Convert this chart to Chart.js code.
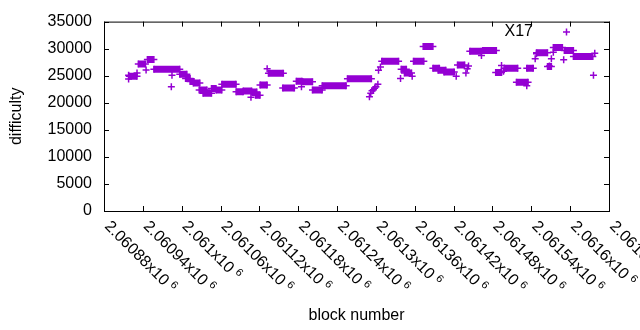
<!DOCTYPE html>
<html>
<head>
<meta charset="utf-8">
<script src="https://cdn.jsdelivr.net/npm/chart.js@4.4.1/dist/chart.umd.min.js"></script>
<style>
html, body { margin: 0; background: #fff; }
</style>
</head>
<body>
<canvas id="myChart" width="640" height="330"></canvas>
<script>
// Runs of blocks mined at the same difficulty (first block, last block, difficulty)
const plateauFirstBlock = [2060919, 2060933, 2060947, 2060957, 2060997, 2061006, 2061013, 2061018, 2061027, 2061033,
    2061046, 2061053, 2061062, 2061084, 2061095, 2061108, 2061114, 2061121, 2061134, 2061156,
    2061177, 2061187, 2061202, 2061217, 2061256, 2061309, 2061339, 2061344, 2061358, 2061373,
    2061388, 2061396, 2061405, 2061426, 2061445, 2061465, 2061485, 2061498, 2061517, 2061533,
    2061548, 2061565, 2061574, 2061591, 2061605];
const plateauLastBlock = [2060931, 2060944, 2060957, 2060997, 2061008, 2061013, 2061019, 2061028, 2061039, 2061046,
    2061053, 2061062, 2061084, 2061095, 2061108, 2061116, 2061121, 2061132, 2061157, 2061174,
    2061186, 2061202, 2061217, 2061254, 2061293, 2061335, 2061347, 2061355, 2061374, 2061388,
    2061398, 2061408, 2061421, 2061437, 2061463, 2061486, 2061494, 2061519, 2061535, 2061543,
    2061565, 2061571, 2061588, 2061605, 2061635];
const plateauDifficulty = [24900, 27160, 28000, 26200, 25250, 24480, 23950, 23640, 22370, 21750,
    22660, 22370, 23420, 22050, 22180, 22000, 21400, 23270, 25460, 22730,
    24000, 23880, 22370, 23150, 24420, 27650, 26200, 25500, 27650, 30390,
    26400, 26000, 25700, 27000, 29540, 29650, 25600, 26400, 23800, 26400,
    29260, 26700, 30200, 29650, 28530];

// Blocks that stand on their own
const singleBlock = [2060918, 2060918, 2060931, 2060945, 2060984, 2060985, 2061107, 2061132, 2061185, 2061290,
    2061292, 2061294, 2061296, 2061298, 2061300, 2061303, 2061304, 2061307, 2061338, 2061356,
    2061424, 2061439, 2061441, 2061443, 2061463, 2061494, 2061497, 2061533, 2061546, 2061548,
    2061568, 2061571, 2061574, 2061590, 2061636, 2061638];
const singleDifficulty = [25100, 24400, 25520, 26070, 22970, 25100, 21020, 26300, 22970, 21100,
    21780, 22200, 22420, 22700, 22970, 23420, 26000, 26600, 24480, 24920,
    24920, 25520, 26300, 26800, 28750, 26900, 25830, 23150, 28120, 29040,
    26800, 28120, 29350, 27950, 25100, 29170];

// x tick labels (mantissa, shown as "...x10^6")
const xTickLabels = ['2.06088', '2.06094', '2.061', '2.06106', '2.06112', '2.06118', '2.06124',
    '2.0613', '2.06136', '2.06142', '2.06148', '2.06154', '2.0616', '2.06166'];

const purple = '#9400d3';
const font = '"Liberation Sans", Arial, sans-serif';

// each run becomes a thick line between its ends, broken by a null point
const plateauPoints = [];
plateauFirstBlock.forEach((b, i) => {
    plateauPoints.push({x: b, y: plateauDifficulty[i]});
    plateauPoints.push({x: plateauLastBlock[i], y: plateauDifficulty[i]});
    plateauPoints.push({x: plateauLastBlock[i], y: null});
});
const singlePoints = singleBlock.map((b, i) => ({x: b, y: singleDifficulty[i]}));

// gnuplot style frame, inward ticks, rotated labels, titles and key
const gnuplotFrame = {
    id: 'gnuplotFrame',
    afterDraw(chart) {
        const {ctx, chartArea: a, scales: {x, y}} = chart;
        ctx.save();
        ctx.strokeStyle = '#000';
        ctx.lineWidth = 1;
        ctx.strokeRect(a.left + 0.5, a.top + 0.5, a.right - a.left, a.bottom - a.top);
        ctx.beginPath();
        x.ticks.forEach(t => {
            const px = Math.round(x.getPixelForValue(t.value)) + 0.5;
            ctx.moveTo(px, a.bottom); ctx.lineTo(px, a.bottom - 5);
            ctx.moveTo(px, a.top); ctx.lineTo(px, a.top + 5);
        });
        y.ticks.forEach(t => {
            const py = Math.round(y.getPixelForValue(t.value)) + 0.5;
            ctx.moveTo(a.left, py); ctx.lineTo(a.left + 5, py);
            ctx.moveTo(a.right, py); ctx.lineTo(a.right - 5, py);
        });
        ctx.stroke();

        ctx.fillStyle = '#000';
        x.ticks.forEach((t, i) => {
            const px = x.getPixelForValue(t.value);
            ctx.save();
            ctx.translate(px + 3, a.bottom + 13);
            ctx.rotate(Math.PI / 4);
            ctx.font = '16px ' + font;
            ctx.textAlign = 'left';
            ctx.textBaseline = 'middle';
            const main = xTickLabels[i] + 'x10';
            ctx.fillText(main, 0, 0);
            const w = ctx.measureText(main).width;
            ctx.font = '11px ' + font;
            ctx.fillText('6', w + 4, -4);
            ctx.restore();
        });

        ctx.font = '16px ' + font;
        ctx.textAlign = 'center';
        ctx.textBaseline = 'middle';
        ctx.fillText('block number', (a.left + a.right) / 2, 316);
        ctx.save();
        ctx.translate(17, (a.top + a.bottom) / 2);
        ctx.rotate(-Math.PI / 2);
        ctx.fillText('difficulty', 0, 0);
        ctx.restore();

        // key
        ctx.textAlign = 'right';
        ctx.fillText('X17', 533, 32);
        ctx.strokeStyle = purple;
        ctx.lineWidth = 1.5;
        ctx.beginPath();
        ctx.moveTo(563, 32); ctx.lineTo(570, 32);
        ctx.moveTo(566.5, 28.5); ctx.lineTo(566.5, 35.5);
        ctx.stroke();
        ctx.restore();
    }
};

const config = {
    type: 'scatter',
    data: {
        datasets: [{
            label: 'X17',
            data: plateauPoints,
            showLine: true,
            borderColor: purple,
            borderWidth: 7,
            borderCapStyle: 'butt',
            spanGaps: false,
            pointStyle: 'cross',
            pointRadius: 3.5,
            pointBorderWidth: 1.5,
            pointBorderColor: purple,
            pointBackgroundColor: purple
        }, {
            label: 'X17',
            data: singlePoints,
            pointStyle: 'cross',
            pointRadius: 3.5,
            pointBorderWidth: 1.5,
            pointBorderColor: purple,
            pointBackgroundColor: purple
        }]
    },
    options: {
        responsive: false,
        animation: false,
        events: [],
        layout: {padding: {left: 0, right: 31, top: 19, bottom: 0}},
        plugins: {legend: {display: false}, tooltip: {enabled: false}},
        scales: {
            x: {
                type: 'linear',
                min: 2060880,
                max: 2061660,
                ticks: {display: false, stepSize: 60},
                grid: {display: false, drawTicks: false},
                border: {display: false},
                afterFit: scale => { scale.height = 119; }
            },
            y: {
                min: 0,
                max: 35000,
                ticks: {
                    stepSize: 5000, padding: 12, color: '#000',
                    font: {family: font, size: 16},
                    callback: v => String(v)
                },
                grid: {display: false, drawTicks: false},
                border: {display: false},
                afterFit: scale => { scale.width = 104; }
            }
        }
    },
    plugins: [gnuplotFrame]
};

const myChart = new Chart(document.getElementById('myChart'), config);
</script>
</body>
</html>
